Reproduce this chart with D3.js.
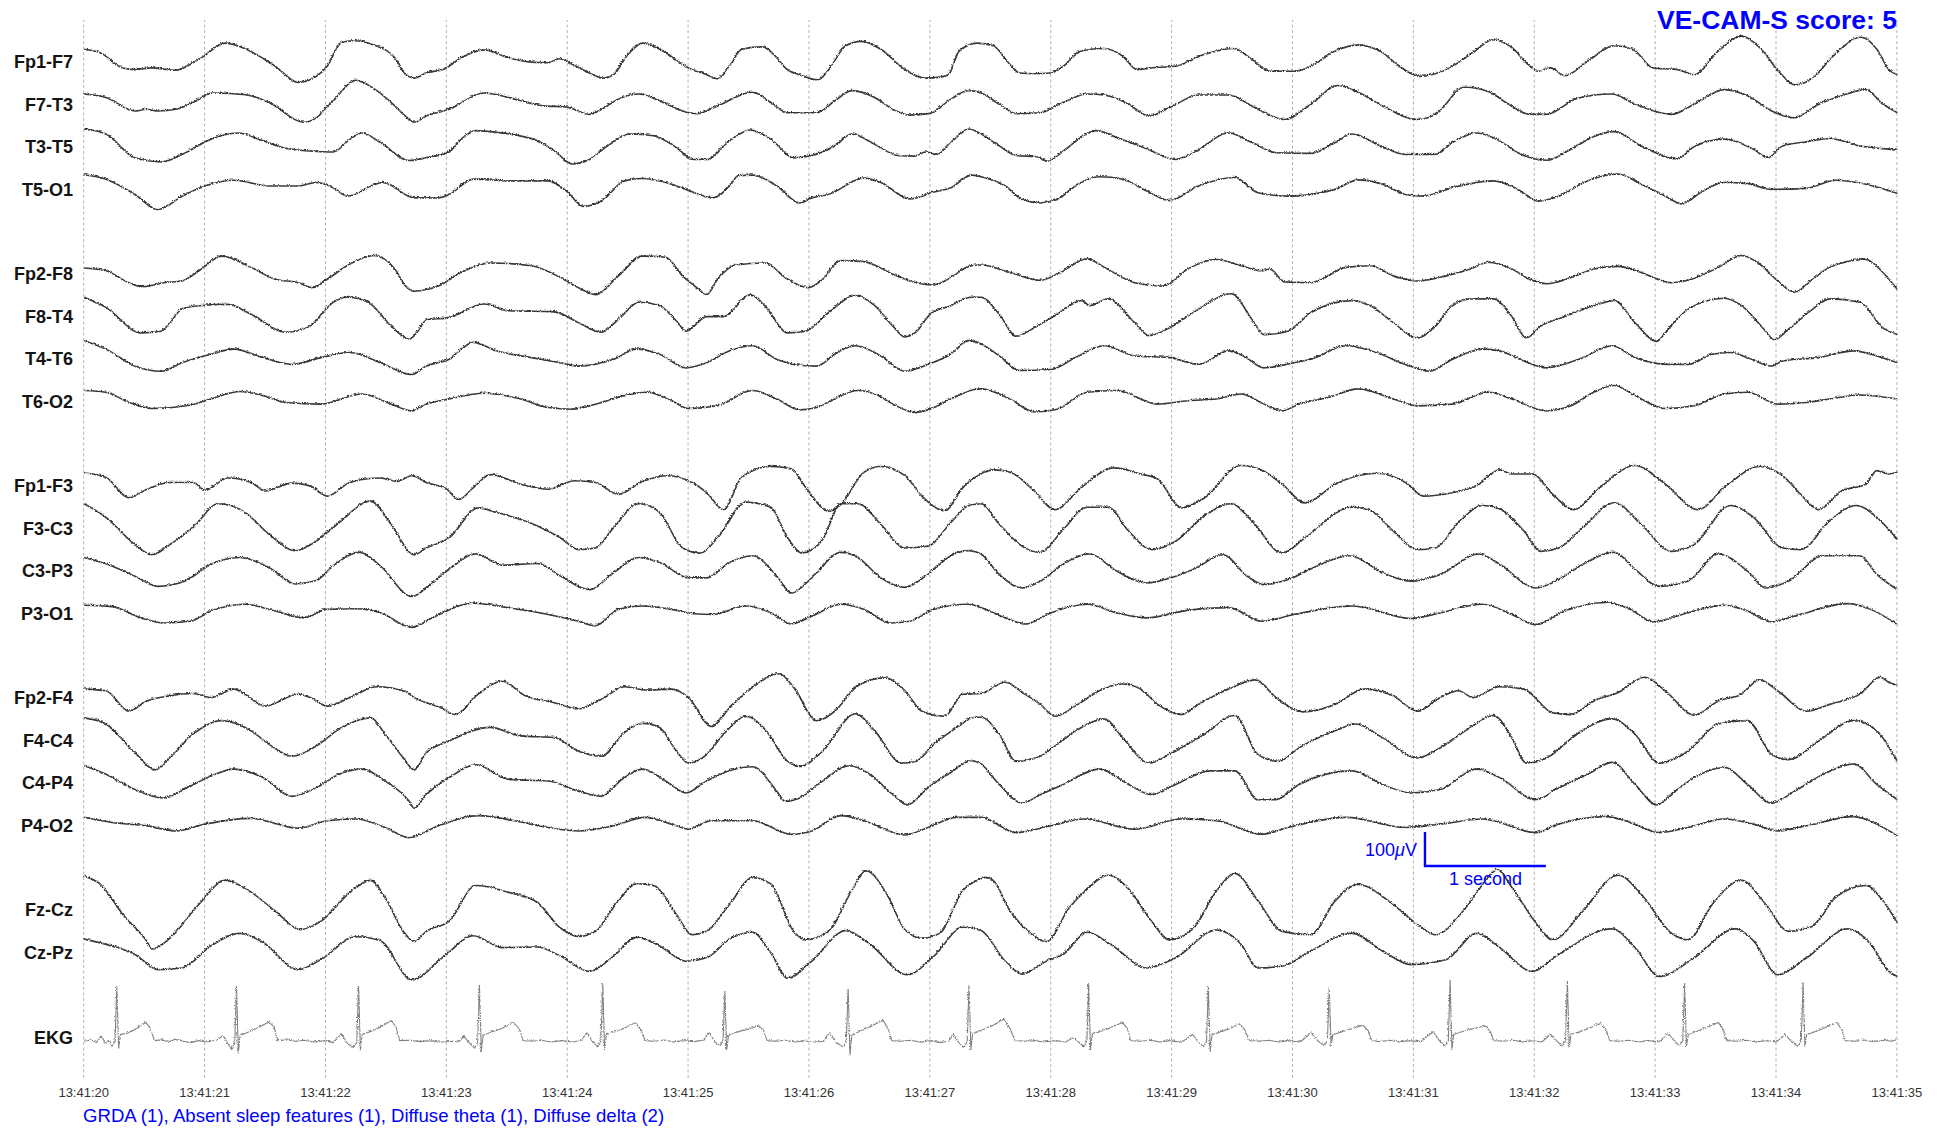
<!DOCTYPE html>
<html>
<head>
<meta charset="utf-8">
<script src="https://cdn.jsdelivr.net/npm/d3@7"></script>
<style>
  html, body { margin: 0; padding: 0; background: #fff; }
  svg { display: block; font-family: "Liberation Sans", Arial, Helvetica, sans-serif; }
</style>
</head>
<body>
<svg id="chart" width="1946" height="1132"></svg>
<script>
// ---- Montage: channel names and their row slots (gaps separate chains) ----
const channelNames = ["Fp1-F7","F7-T3","T3-T5","T5-O1",
                      "Fp2-F8","F8-T4","T4-T6","T6-O2",
                      "Fp1-F3","F3-C3","C3-P3","P3-O1",
                      "Fp2-F4","F4-C4","C4-P4","P4-O2",
                      "Fz-Cz","Cz-Pz","EKG"];
const channelSlots = [0,1,2,3, 5,6,7,8, 10,11,12,13, 15,16,17,18, 20,21, 23];

// time axis labels, one per second
const tickLabels = ["13:41:20","13:41:21","13:41:22","13:41:23","13:41:24","13:41:25",
                    "13:41:26","13:41:27","13:41:28","13:41:29","13:41:30","13:41:31",
                    "13:41:32","13:41:33","13:41:34","13:41:35"];

const titleText = "VE-CAM-S score: 5";
const findingsText = "GRDA (1), Absent sleep features (1), Diffuse theta (1), Diffuse delta (2)";

// ---- Traces: [seconds from 13:41:20, amplitude in µV (positive up)] ----
const fp1F7 = [[0,37],[0.13,27],[0.32,-18],[0.42,-23],[0.56,-18],[0.76,-25],[0.90,-3],[0.97,12],[1.17,55],[1.34,37],[1.58,-13],[1.77,-61],[1.92,-43],[2.01,-13],[2.13,57],[2.23,62],[2.40,49],[2.57,12],[2.66,-38],[2.73,-48],[2.83,-33],[2.98,-21],[3.12,12],[3.31,35],[3.51,12],[3.70,-1],[3.84,-3],[3.93,9],[4.04,-8],[4.18,-33],[4.30,-48],[4.38,-38],[4.50,22],[4.62,55],[4.76,37],[5.00,-18],[5.15,-38],[5.24,-50],[5.34,-13],[5.44,37],[5.61,44],[5.73,12],[5.80,-18],[5.92,-38],[6.07,-53],[6.16,-23],[6.30,47],[6.43,60],[6.59,37],[6.79,-23],[6.96,-48],[7.08,-45],[7.15,-38],[7.24,32],[7.39,55],[7.52,47],[7.66,-8],[7.74,-33],[7.86,-35],[8.00,-33],[8.10,-13],[8.25,32],[8.44,39],[8.59,17],[8.71,-23],[8.83,-18],[9.03,-13],[9.27,22],[9.51,39],[9.66,7],[9.81,-28],[10.01,-28],[10.15,-13],[10.35,32],[10.54,49],[10.74,27],[10.88,-13],[11.05,-43],[11.27,-23],[11.47,22],[11.66,65],[11.81,42],[11.96,-13],[12.03,-28],[12.13,-18],[12.25,-41],[12.44,2],[12.66,47],[12.81,37],[12.98,-18],[13.18,-23],[13.32,-38],[13.52,32],[13.71,75],[13.86,42],[14.03,-33],[14.15,-68],[14.30,-48],[14.47,17],[14.70,72],[14.83,37],[14.93,-23],[15.00,-38]];
const f7T3 = [[0,30],[0.18,20],[0.42,-20],[0.52,-15],[0.61,-20],[0.76,-15],[0.90,5],[1.07,33],[1.34,28],[1.53,5],[1.82,-53],[1.92,-40],[2.06,10],[2.25,70],[2.40,45],[2.57,-5],[2.69,-45],[2.73,-53],[2.83,-35],[3.02,-15],[3.31,33],[3.51,20],[3.80,-5],[3.99,-8],[4.18,-30],[4.28,-15],[4.42,15],[4.59,30],[4.76,10],[4.95,-20],[5.07,-28],[5.24,-5],[5.53,35],[5.68,5],[5.82,-25],[6.06,-25],[6.21,10],[6.35,40],[6.54,20],[6.69,-15],[6.83,-32],[7.00,-27],[7.17,15],[7.32,40],[7.42,33],[7.57,0],[7.71,-28],[7.91,-25],[8.10,5],[8.30,30],[8.44,27],[8.64,0],[8.81,-35],[8.98,-10],[9.22,27],[9.47,27],[9.66,-5],[9.93,-45],[10.15,0],[10.37,55],[10.54,35],[10.74,-5],[11.03,-45],[11.18,-30],[11.42,50],[11.62,37],[11.76,5],[11.96,-30],[12.10,-30],[12.35,17],[12.64,30],[12.83,0],[13.13,-30],[13.32,0],[13.57,43],[13.76,25],[13.96,-20],[14.15,-40],[14.35,0],[14.54,25],[14.74,43],[14.88,0],[15.00,-25]];
const t3T5 = [[0,52],[0.18,37],[0.42,-33],[0.64,-45],[0.81,-23],[1.05,22],[1.27,40],[1.48,17],[1.67,-5],[1.87,-13],[2.06,-16],[2.20,22],[2.30,40],[2.45,12],[2.69,-41],[2.83,-33],[3.02,-16],[3.12,22],[3.24,47],[3.41,42],[3.75,17],[3.89,-13],[4.04,-51],[4.18,-38],[4.33,2],[4.52,37],[4.71,32],[4.90,-3],[5.04,-38],[5.15,-38],[5.34,17],[5.51,49],[5.68,22],[5.87,-33],[6.02,-26],[6.21,2],[6.35,37],[6.54,7],[6.73,-26],[6.87,-28],[6.96,-16],[7.05,-23],[7.20,22],[7.32,52],[7.42,37],[7.57,2],[7.71,-26],[7.88,-30],[7.97,-43],[8.10,-13],[8.27,32],[8.37,47],[8.54,27],[8.79,-6],[9.03,-38],[9.18,-18],[9.47,40],[9.66,12],[9.86,-18],[10.15,-20],[10.35,12],[10.49,37],[10.74,-1],[10.93,-23],[11.18,-23],[11.32,12],[11.52,40],[11.71,17],[11.86,-18],[12.10,-40],[12.30,-8],[12.49,30],[12.66,44],[12.88,2],[13.18,-36],[13.32,0],[13.57,22],[13.81,-8],[13.93,-33],[14.05,2],[14.25,14],[14.44,24],[14.69,2],[14.88,-6],[15.00,-10]];
const t5O1 = [[0,42],[0.18,29],[0.42,-16],[0.61,-61],[0.81,-21],[1.00,9],[1.24,26],[1.53,9],[1.77,9],[1.92,19],[2.06,4],[2.18,-21],[2.47,19],[2.73,-26],[2.93,-26],[3.02,-16],[3.22,29],[3.51,24],[3.84,24],[3.99,-6],[4.13,-51],[4.28,-36],[4.47,24],[4.62,31],[4.86,14],[5.05,-11],[5.20,-26],[5.34,9],[5.41,39],[5.53,41],[5.73,9],[5.92,-41],[6.02,-26],[6.16,-16],[6.45,32],[6.59,19],[6.83,-29],[7.03,-9],[7.17,4],[7.34,41],[7.42,36],[7.62,9],[7.76,-31],[7.91,-41],[8.05,-31],[8.20,9],[8.40,36],[8.59,29],[8.79,-6],[8.98,-34],[9.22,9],[9.52,34],[9.71,-11],[9.96,-21],[10.35,-1],[10.54,27],[10.74,14],[10.93,-16],[11.08,-21],[11.32,4],[11.66,24],[11.86,-1],[12.03,-36],[12.20,-21],[12.44,24],[12.69,44],[12.88,14],[13.08,-21],[13.22,-44],[13.37,-11],[13.57,19],[13.76,16],[13.96,-1],[14.25,2],[14.49,26],[14.74,14],[15.00,-13]];
const fp2F8 = [[0,17],[0.18,9],[0.37,-26],[0.49,-38],[0.66,-26],[0.81,-21],[0.95,9],[1.14,52],[1.38,19],[1.58,-16],[1.77,-26],[1.89,-41],[2.01,-16],[2.20,29],[2.40,54],[2.57,14],[2.66,-36],[2.73,-51],[2.93,-36],[3.12,4],[3.36,32],[3.70,24],[3.94,-11],[4.09,-41],[4.23,-61],[4.42,-6],[4.62,52],[4.81,49],[4.95,-6],[5.07,-41],[5.15,-61],[5.24,-16],[5.39,26],[5.63,32],[5.82,-16],[5.99,-41],[6.11,-16],[6.26,39],[6.45,36],[6.69,-1],[6.88,-26],[7.03,-33],[7.17,-11],[7.32,22],[7.42,26],[7.66,4],[7.91,-19],[8.05,-1],[8.30,44],[8.44,19],[8.69,-26],[8.93,-36],[9.13,14],[9.37,42],[9.57,24],[9.74,9],[9.81,14],[9.93,-24],[10.15,-26],[10.44,19],[10.64,24],[10.83,-6],[11.03,-21],[11.27,-6],[11.47,14],[11.62,34],[11.81,14],[11.96,-16],[12.10,-29],[12.30,-11],[12.49,14],[12.69,22],[12.88,4],[13.13,-26],[13.27,-19],[13.52,19],[13.71,54],[13.86,29],[14.01,-21],[14.15,-54],[14.30,-16],[14.44,19],[14.74,42],[14.88,4],[15.00,-46]];
const f8T4 = [[0,56],[0.18,26],[0.47,-49],[0.64,-44],[0.81,21],[0.95,31],[1.19,35],[1.38,6],[1.67,-47],[1.87,-29],[2.06,41],[2.18,56],[2.35,41],[2.54,-29],[2.69,-67],[2.76,-44],[2.83,-11],[3.02,-4],[3.31,36],[3.51,16],[3.89,13],[4.09,-19],[4.28,-47],[4.42,-9],[4.59,41],[4.76,31],[4.90,-14],[4.98,-44],[5.15,-1],[5.29,-1],[5.51,63],[5.63,31],[5.82,-49],[5.97,-44],[6.16,11],[6.38,61],[6.54,31],[6.69,-29],[6.79,-61],[6.88,-47],[7.00,6],[7.17,31],[7.34,56],[7.42,56],[7.57,6],[7.71,-59],[7.86,-34],[8.05,6],[8.25,46],[8.32,31],[8.47,51],[8.69,-19],[8.81,-57],[8.98,-34],[9.22,21],[9.49,66],[9.66,-9],[9.76,-54],[9.96,-44],[10.15,11],[10.49,46],[10.64,31],[10.83,-19],[11.03,-64],[11.18,-29],[11.32,31],[11.47,51],[11.66,51],[11.81,-1],[11.93,-64],[12.05,-29],[12.25,-1],[12.49,31],[12.66,46],[12.83,-19],[13.01,-74],[13.08,-49],[13.27,21],[13.57,53],[13.71,31],[13.91,-44],[13.98,-69],[14.10,-39],[14.30,21],[14.44,51],[14.69,41],[14.88,-34],[15.00,-54]];
const t4T6 = [[0,53],[0.18,28],[0.42,-22],[0.64,-37],[0.81,-12],[1.05,13],[1.24,28],[1.48,3],[1.72,-17],[1.96,3],[2.20,18],[2.45,-12],[2.71,-47],[2.83,-22],[3.02,-2],[3.22,48],[3.41,23],[3.70,3],[3.94,-12],[4.09,-22],[4.38,-2],[4.57,28],[4.76,13],[4.98,-27],[5.15,-12],[5.34,23],[5.53,38],[5.73,-2],[5.87,-17],[6.06,-22],[6.21,13],[6.38,38],[6.59,8],[6.79,-37],[6.98,-17],[7.17,13],[7.32,53],[7.42,43],[7.57,8],[7.74,-35],[8.00,-32],[8.20,3],[8.44,38],[8.69,8],[8.98,3],[9.22,-17],[9.47,23],[9.59,8],[9.76,-27],[10.01,-12],[10.15,-2],[10.44,38],[10.69,18],[10.93,-17],[11.13,-37],[11.32,-2],[11.57,28],[11.71,23],[11.91,-7],[12.10,-27],[12.40,3],[12.64,38],[12.83,3],[13.13,-17],[13.27,-17],[13.47,13],[13.62,18],[13.76,3],[13.96,-22],[14.05,-7],[14.35,3],[14.64,23],[14.83,8],[15.00,-12]];
const t6O2 = [[0,31],[0.18,26],[0.37,-4],[0.56,-22],[0.85,-14],[1.05,6],[1.29,28],[1.48,16],[1.67,-4],[1.96,-9],[2.30,21],[2.54,-9],[2.71,-29],[2.83,-9],[3.02,6],[3.31,23],[3.61,6],[3.84,-19],[4.04,-24],[4.28,-4],[4.47,16],[4.66,26],[4.86,1],[5.00,-22],[5.24,-14],[5.53,31],[5.73,6],[5.92,-26],[6.06,-19],[6.21,6],[6.40,31],[6.57,16],[6.69,-9],[6.88,-34],[7.03,-19],[7.17,6],[7.37,34],[7.42,36],[7.66,6],[7.86,-32],[8.05,-24],[8.30,26],[8.54,31],[8.88,-9],[9.13,1],[9.37,6],[9.57,21],[9.76,-9],[9.91,-29],[10.05,-9],[10.30,11],[10.54,36],[10.83,6],[11.03,-14],[11.32,-9],[11.62,26],[11.81,6],[12.10,-29],[12.30,-14],[12.49,26],[12.66,46],[12.83,16],[13.08,-22],[13.32,-14],[13.57,21],[13.76,26],[14.01,-9],[14.25,-4],[14.44,6],[14.69,18],[15.00,6]];
const fp1F3 = [[0,38],[0.18,25],[0.37,-35],[0.52,-10],[0.71,10],[0.90,10],[1.00,-13],[1.19,23],[1.38,10],[1.50,-15],[1.72,8],[1.87,0],[2.01,-30],[2.20,10],[2.45,23],[2.59,13],[2.71,30],[2.83,10],[3.00,-10],[3.10,-40],[3.22,-5],[3.36,33],[3.61,5],[3.84,-10],[4.06,15],[4.23,10],[4.42,-25],[4.62,13],[4.83,30],[5.00,15],[5.15,-20],[5.29,-70],[5.44,25],[5.68,57],[5.85,50],[5.97,-5],[6.16,-75],[6.26,-55],[6.45,40],[6.59,57],[6.79,30],[6.93,-30],[7.12,-73],[7.27,-5],[7.42,35],[7.52,47],[7.66,40],[7.86,-15],[8.03,-70],[8.25,-5],[8.52,53],[8.74,35],[8.88,20],[9.08,-65],[9.27,-35],[9.57,60],[9.76,43],[9.91,5],[10.10,-50],[10.35,5],[10.69,37],[10.93,10],[11.08,-30],[11.32,-20],[11.52,0],[11.71,47],[11.81,35],[11.98,35],[12.15,-25],[12.32,-70],[12.54,-5],[12.83,60],[13.08,5],[13.35,-70],[13.57,-5],[13.86,57],[14.05,30],[14.20,-25],[14.35,-70],[14.54,-15],[14.74,5],[14.83,45],[14.93,35],[15.00,40]];
const f3C3 = [[0,72],[0.18,32],[0.42,-48],[0.56,-78],[0.71,-48],[0.90,2],[1.11,72],[1.33,47],[1.53,-18],[1.75,-66],[1.92,-38],[2.11,17],[2.37,80],[2.54,12],[2.73,-78],[2.83,-58],[3.02,-28],[3.26,60],[3.41,47],[3.75,7],[3.94,-28],[4.09,-63],[4.23,-58],[4.38,2],[4.59,72],[4.76,47],[4.95,-58],[5.10,-73],[5.24,-28],[5.48,77],[5.68,62],[5.82,-28],[5.94,-73],[6.11,-33],[6.26,72],[6.40,72],[6.59,12],[6.79,-58],[6.98,-53],[7.17,17],[7.32,67],[7.42,72],[7.57,12],[7.76,-53],[7.91,-71],[8.10,-3],[8.30,62],[8.47,62],[8.64,-8],[8.83,-63],[9.03,-38],[9.27,37],[9.49,72],[9.66,22],[9.91,-73],[10.10,-28],[10.49,62],[10.64,52],[10.83,-8],[11.03,-63],[11.18,-58],[11.37,17],[11.57,67],[11.71,57],[11.91,-8],[12.05,-68],[12.20,-58],[12.40,2],[12.66,75],[12.88,12],[13.13,-68],[13.32,-48],[13.62,67],[13.81,32],[14.05,-58],[14.20,-63],[14.44,22],[14.66,67],[14.83,32],[15.00,-33]];
const c3P3 = [[0,39],[0.23,14],[0.42,-16],[0.61,-46],[0.83,-31],[1.05,19],[1.29,39],[1.53,9],[1.75,-39],[1.92,-29],[2.06,14],[2.28,54],[2.45,14],[2.71,-76],[2.83,-51],[3.02,4],[3.24,49],[3.46,16],[3.75,21],[3.94,-16],[4.18,-56],[4.38,-6],[4.59,39],[4.76,24],[5.00,-21],[5.15,-21],[5.34,24],[5.53,44],[5.73,-16],[5.85,-66],[6.02,-21],[6.26,54],[6.40,39],[6.59,-21],[6.79,-49],[6.98,-11],[7.17,44],[7.32,59],[7.42,49],[7.57,-11],[7.76,-51],[7.91,-31],[8.10,19],[8.32,49],[8.54,-1],[8.79,-36],[9.03,-16],[9.18,4],[9.42,47],[9.62,-16],[9.76,-41],[9.96,-26],[10.20,14],[10.47,44],[10.74,-6],[10.98,-31],[11.22,-11],[11.54,49],[11.71,19],[12.01,-51],[12.20,-26],[12.40,19],[12.66,54],[12.83,4],[13.03,-46],[13.27,-31],[13.52,49],[13.76,-1],[13.91,-51],[14.10,-31],[14.39,44],[14.69,44],[14.83,-11],[15.00,-56]];
const p3O1 = [[0,23],[0.23,19],[0.47,-14],[0.66,-29],[0.88,-24],[1.05,6],[1.33,26],[1.58,6],[1.82,-14],[2.01,11],[2.25,13],[2.45,1],[2.71,-42],[2.88,-14],[3.22,29],[3.51,16],[3.84,-4],[4.09,-24],[4.23,-37],[4.42,11],[4.62,21],[4.86,11],[5.05,-2],[5.20,-4],[5.48,21],[5.68,1],[5.85,-32],[6.02,-9],[6.26,26],[6.45,11],[6.67,-29],[6.83,-24],[7.03,11],[7.32,26],[7.42,16],[7.62,-14],[7.79,-32],[8.00,1],[8.30,26],[8.54,1],[8.79,-14],[9.13,8],[9.47,16],[9.74,-24],[10.01,-4],[10.49,21],[10.98,-16],[11.22,1],[11.57,26],[11.81,-4],[12.01,-34],[12.25,6],[12.59,31],[12.79,11],[12.98,-26],[13.27,1],[13.57,23],[13.76,6],[13.96,-26],[14.15,-9],[14.59,28],[14.78,11],[15.00,-34]];
const fp2F4 = [[0,26],[0.18,21],[0.37,-39],[0.52,-9],[0.71,6],[0.90,13],[1.05,1],[1.24,26],[1.50,-24],[1.77,11],[1.87,1],[2.01,-24],[2.20,1],[2.42,33],[2.64,21],[2.73,1],[2.95,-29],[3.07,-49],[3.26,11],[3.46,49],[3.65,6],[3.89,-14],[4.09,-32],[4.28,-4],[4.47,33],[4.66,23],[4.86,26],[5.00,1],[5.19,-84],[5.34,-29],[5.53,31],[5.75,71],[5.87,31],[6.06,-67],[6.21,-39],[6.40,36],[6.62,59],[6.79,21],[6.93,-39],[7.12,-54],[7.27,11],[7.42,13],[7.62,46],[7.76,16],[7.91,-19],[8.03,-54],[8.22,-19],[8.40,21],[8.59,41],[8.74,26],[8.88,-19],[9.08,-49],[9.22,-19],[9.47,26],[9.69,53],[9.86,1],[10.08,-41],[10.35,-19],[10.59,26],[10.83,6],[11.03,-39],[11.22,1],[11.37,21],[11.49,1],[11.71,33],[11.91,26],[12.15,-44],[12.30,-49],[12.49,-9],[12.69,16],[12.91,61],[13.08,21],[13.32,-51],[13.52,-9],[13.71,11],[13.86,53],[14.01,21],[14.25,-39],[14.44,-19],[14.69,11],[14.86,61],[14.93,46],[15.00,36]];
const f4C4 = [[0,66],[0.18,48],[0.42,-37],[0.59,-87],[0.71,-52],[0.90,18],[1.14,58],[1.38,28],[1.53,-12],[1.72,-47],[1.92,-17],[2.11,33],[2.37,66],[2.49,18],[2.64,-52],[2.73,-87],[2.83,-37],[3.02,-2],[3.36,38],[3.61,13],[3.89,8],[4.09,-32],[4.28,-47],[4.47,23],[4.62,50],[4.76,38],[4.90,-32],[5.00,-67],[5.15,-42],[5.29,18],[5.48,70],[5.63,33],[5.82,-62],[5.92,-77],[6.11,-32],[6.38,78],[6.54,28],[6.76,-67],[6.88,-62],[7.03,-12],[7.22,38],[7.37,68],[7.42,68],[7.57,18],[7.71,-62],[7.91,-47],[8.05,-12],[8.25,38],[8.44,63],[8.59,8],[8.81,-67],[9.00,-37],[9.27,18],[9.52,73],[9.71,-42],[9.88,-62],[10.05,-22],[10.35,28],[10.52,48],[10.74,8],[11.03,-52],[11.22,-22],[11.47,38],[11.66,73],[11.81,8],[11.93,-67],[12.10,-52],[12.35,18],[12.64,63],[12.83,18],[13.03,-67],[13.27,-32],[13.52,48],[13.76,58],[13.96,-42],[14.10,-57],[14.35,-2],[14.64,58],[14.83,28],[15.00,-62]];
const c4P4 = [[0,50],[0.18,25],[0.42,-20],[0.66,-45],[0.85,-15],[1.05,20],[1.24,40],[1.48,15],[1.72,-40],[1.92,-15],[2.11,25],[2.30,40],[2.49,5],[2.69,-55],[2.73,-75],[2.83,-35],[3.02,15],[3.24,53],[3.51,10],[3.84,5],[4.09,-25],[4.28,-40],[4.45,10],[4.62,40],[4.81,5],[4.98,-30],[5.15,5],[5.34,35],[5.53,47],[5.73,-25],[5.80,-55],[5.92,-45],[6.11,5],[6.33,50],[6.50,25],[6.69,-35],[6.81,-65],[6.98,-15],[7.17,30],[7.34,65],[7.42,55],[7.57,-5],[7.76,-60],[7.91,-35],[8.10,-5],[8.40,40],[8.64,-5],[8.83,-35],[9.03,-5],[9.32,35],[9.52,35],[9.71,-50],[9.86,-50],[10.05,-5],[10.49,35],[10.74,-5],[10.98,-30],[11.22,-20],[11.52,40],[11.71,15],[12.01,-50],[12.20,-15],[12.44,25],[12.64,60],[12.83,-5],[13.01,-65],[13.18,-20],[13.32,15],[13.57,45],[13.76,-5],[13.96,-60],[14.15,-25],[14.39,25],[14.64,55],[14.83,-5],[15.00,-50]];
const p4O2 = [[0,23],[0.23,8],[0.52,-2],[0.76,-17],[1.00,3],[1.38,20],[1.77,-9],[2.01,13],[2.25,18],[2.49,-7],[2.69,-37],[2.93,-2],[3.26,28],[3.56,13],[3.84,-7],[4.09,-17],[4.38,-2],[4.64,23],[4.90,-2],[5.00,-12],[5.19,13],[5.53,13],[5.85,-27],[6.02,-17],[6.26,28],[6.45,13],[6.79,-29],[6.98,-7],[7.22,23],[7.42,23],[7.71,-22],[8.00,-2],[8.27,18],[8.69,-12],[9.08,18],[9.37,13],[9.74,-27],[9.96,-7],[10.44,23],[10.93,-7],[11.22,3],[11.57,18],[12.01,-22],[12.20,3],[12.59,25],[12.79,8],[13.03,-22],[13.27,-7],[13.57,18],[13.81,3],[14.01,-17],[14.25,-2],[14.64,25],[14.83,3],[15.00,-32]];
const fzCz = [[0,99],[0.13,77],[0.32,-13],[0.52,-93],[0.56,-115],[0.71,-83],[0.95,17],[1.17,87],[1.34,62],[1.58,-3],[1.79,-58],[1.96,-33],[2.20,52],[2.37,87],[2.49,37],[2.64,-63],[2.73,-93],[2.83,-63],[3.02,-33],[3.24,72],[3.51,52],[3.75,22],[3.94,-53],[4.09,-78],[4.23,-63],[4.42,27],[4.57,77],[4.71,72],[4.90,-13],[5.03,-73],[5.15,-63],[5.34,17],[5.53,95],[5.68,77],[5.87,-63],[5.97,-88],[6.16,-63],[6.35,57],[6.47,115],[6.64,47],[6.79,-58],[6.93,-83],[7.08,-68],[7.27,57],[7.41,90],[7.46,96],[7.52,87],[7.66,-3],[7.81,-63],[7.96,-93],[8.15,7],[8.30,62],[8.47,102],[8.64,62],[8.83,-33],[8.98,-88],[9.18,-53],[9.37,57],[9.52,107],[9.71,27],[9.91,-63],[10.15,-73],[10.35,27],[10.54,75],[10.79,27],[11.03,-43],[11.18,-73],[11.42,2],[11.62,97],[11.69,119],[11.81,67],[12.01,-38],[12.15,-88],[12.40,-3],[12.69,102],[12.88,47],[13.13,-68],[13.27,-88],[13.47,17],[13.71,87],[13.91,17],[14.10,-63],[14.30,-48],[14.49,37],[14.74,72],[14.88,27],[15.00,-38]];
const czPz = [[0,39],[0.23,19],[0.42,-6],[0.61,-51],[0.81,-46],[1.05,19],[1.29,56],[1.48,29],[1.77,-51],[1.96,-21],[2.25,46],[2.45,34],[2.71,-81],[2.98,-11],[3.22,49],[3.46,14],[3.75,16],[3.94,-11],[4.18,-56],[4.38,-11],[4.57,44],[4.76,19],[4.98,-26],[5.15,-16],[5.34,39],[5.53,59],[5.68,-1],[5.82,-76],[6.02,-26],[6.30,64],[6.50,24],[6.81,-66],[7.03,-11],[7.27,74],[7.42,64],[7.62,-26],[7.76,-64],[7.96,-26],[8.10,-6],[8.30,59],[8.49,24],[8.79,-46],[9.03,-16],[9.37,66],[9.57,24],[9.71,-46],[9.91,-41],[10.15,4],[10.49,56],[10.74,4],[10.98,-36],[11.27,-21],[11.52,56],[11.71,14],[11.98,-56],[12.20,-6],[12.64,69],[12.83,14],[13.03,-71],[13.32,-16],[13.66,69],[13.81,34],[14.01,-66],[14.25,-16],[14.59,69],[14.78,24],[14.93,-56],[15.00,-71]];
const ekg = [[0,-12],[0.06,-8],[0.10,-16],[0.14,3],[0.18,-18],[0.21,-10],[0.23,-27],[0.255,-15],[0.27,148],[0.285,-32],[0.30,8],[0.36,12],[0.42,22],[0.51,43],[0.55,25],[0.58,-10],[0.65,-8],[0.70,-15],[0.75,-6],[0.82,-12],[0.88,-16],
  [0.95,-10],[1.02,-14],[1.10,-8],[1.15,5],[1.19,-20],[1.22,-37],[1.245,-20],[1.26,150],[1.275,-47],[1.29,5],[1.35,14],[1.42,25],[1.53,45],[1.57,30],[1.60,-10],[1.68,-8],[1.75,-12],[1.82,-9],[1.90,-14],[2.00,-10],
  [2.06,-16],[2.13,10],[2.18,-20],[2.23,-30],[2.255,-15],[2.27,150],[2.285,-37],[2.30,8],[2.36,15],[2.44,28],[2.54,48],[2.58,30],[2.61,-10],[2.70,-9],[2.78,-13],[2.86,-10],[2.95,-15],[3.05,-12],
  [3.10,-14],[3.14,3],[3.19,-18],[3.23,-32],[3.255,-18],[3.27,153],[3.285,-42],[3.30,5],[3.37,15],[3.45,25],[3.55,43],[3.60,25],[3.63,-10],[3.70,-12],[3.78,-9],[3.86,-14],[3.95,-10],[4.05,-14],
  [4.12,-8],[4.16,13],[4.21,-16],[4.25,-28],[4.275,-12],[4.29,158],[4.305,-37],[4.32,8],[4.38,14],[4.46,25],[4.56,43],[4.61,20],[4.64,-10],[4.72,-12],[4.80,-8],[4.88,-14],[4.96,-10],[5.05,-13],
  [5.13,-8],[5.17,13],[5.22,-15],[5.26,-25],[5.285,-10],[5.30,135],[5.315,-37],[5.33,5],[5.40,15],[5.48,22],[5.58,33],[5.62,20],[5.65,-10],[5.72,-12],[5.80,-9],[5.88,-14],[5.96,-11],[6.05,-14],
  [6.12,-12],[6.17,13],[6.22,-15],[6.28,-30],[6.305,-12],[6.32,141],[6.335,-52],[6.35,5],[6.42,18],[6.50,30],[6.61,50],[6.65,25],[6.68,-10],[6.76,-12],[6.84,-9],[6.92,-15],[7.00,-10],[7.08,-16],
  [7.15,-12],[7.19,8],[7.24,-18],[7.28,-30],[7.305,-12],[7.32,153],[7.335,-37],[7.35,10],[7.42,20],[7.52,35],[7.61,53],[7.66,25],[7.70,-10],[7.78,-12],[7.86,-10],[7.94,-14],[8.04,-10],[8.12,-14],
  [8.18,-2],[8.22,-12],[8.27,-28],[8.295,-12],[8.31,156],[8.325,-37],[8.34,8],[8.40,16],[8.48,26],[8.59,43],[8.63,25],[8.66,-10],[8.74,-12],[8.82,-9],[8.90,-14],[8.98,-10],[9.08,-15],
  [9.17,8],[9.22,-15],[9.26,-28],[9.285,-12],[9.30,146],[9.315,-42],[9.33,8],[9.40,15],[9.47,24],[9.56,38],[9.60,22],[9.64,-10],[9.72,-12],[9.80,-9],[9.88,-14],[9.96,-10],[10.06,-14],
  [10.15,13],[10.21,-12],[10.26,-25],[10.285,-10],[10.30,143],[10.315,-27],[10.33,8],[10.40,15],[10.48,24],[10.58,35],[10.62,20],[10.65,-10],[10.72,-13],[10.80,-9],[10.88,-14],[10.96,-10],[11.06,-13],
  [11.16,16],[11.21,-10],[11.26,-26],[11.285,-10],[11.30,165],[11.315,-37],[11.33,8],[11.40,16],[11.48,24],[11.59,33],[11.63,18],[11.66,-10],[11.74,-12],[11.82,-9],[11.90,-14],[11.98,-10],[12.06,-14],
  [12.13,8],[12.19,-14],[12.23,-27],[12.255,-10],[12.27,163],[12.285,-32],[12.30,8],[12.37,15],[12.45,26],[12.55,41],[12.59,22],[12.62,-10],[12.70,-12],[12.78,-9],[12.86,-14],[12.94,-10],[13.04,-14],
  [13.10,13],[13.16,-14],[13.20,-25],[13.225,-10],[13.24,156],[13.255,-27],[13.27,8],[13.34,16],[13.42,28],[13.52,43],[13.56,22],[13.59,-10],[13.67,-12],[13.75,-9],[13.83,-14],[13.91,-10],[14.00,-14],
  [14.07,8],[14.13,-15],[14.18,-28],[14.205,-10],[14.22,160],[14.235,-27],[14.25,8],[14.32,16],[14.40,28],[14.50,43],[14.54,22],[14.57,-10],[14.65,-12],[14.73,-8],[14.81,-14],[14.89,-9],[14.95,-12],[15.00,-7]];

const traces = [fp1F7, f7T3, t3T5, t5O1, fp2F8, f8T4, t4T6, t6O2,
                fp1F3, f3C3, c3P3, p3O1, fp2F4, f4C4, c4P4, p4O2, fzCz, czPz, ekg];

// calibration bar: starts at this time (s), spans 1 second and 100 µV
const calStart = 11.1, calSeconds = 1, calMicroV = 100;

// ---- Layout ----
const gridTop = 20, gridBottom = 1078;
const blue = "#0000ff";

const svg = d3.select("#chart");

// slight roughness on the pen strokes
const defs = svg.append("defs");
const rough = defs.append("filter")
  .attr("id", "pen")
  .attr("x", "-1%").attr("y", "-10%")
  .attr("width", "102%").attr("height", "120%");
rough.append("feTurbulence")
  .attr("type", "turbulence")
  .attr("baseFrequency", "0.45 0.6")
  .attr("numOctaves", 1)
  .attr("seed", 7)
  .attr("result", "tex");
rough.append("feDisplacementMap")
  .attr("in", "SourceGraphic")
  .attr("in2", "tex")
  .attr("scale", 2.2)
  .attr("xChannelSelector", "R")
  .attr("yChannelSelector", "G");

const x = d3.scaleLinear().domain([0, 15]).range([83.2, 1896.4]);
const slotY = d3.scaleLinear().domain([0, 23]).range([60.8, 1036.2]);
const amp = d3.scaleLinear().domain([0, 100]).range([0, -34]);   // 100 µV -> 34 px

// time grid + labels
const axis = d3.axisBottom(x)
  .tickValues(d3.range(tickLabels.length))
  .tickFormat(i => tickLabels[i])
  .tickSizeInner(-(gridBottom - gridTop))
  .tickSizeOuter(0)
  .tickPadding(10);

const gAxis = svg.append("g")
  .attr("transform", `translate(0,${gridBottom})`)
  .call(axis);
gAxis.select(".domain").remove();
gAxis.selectAll(".tick line")
  .attr("stroke", "#b4b4b4")
  .attr("stroke-width", 1)
  .attr("stroke-dasharray", "3,2.5");
gAxis.selectAll(".tick text")
  .attr("font-size", 13)
  .attr("fill", "#333")
  .attr("font-family", "'Liberation Sans', Arial, sans-serif");

// traces
const gTraces = svg.append("g").attr("filter", "url(#pen)");
traces.forEach((series, i) => {
  const base = slotY(channelSlots[i]);
  const isEkg = channelNames[i] === "EKG";
  const line = d3.line()
    .x(d => x(d[0]))
    .y(d => base + amp(d[1]))
    .curve(isEkg ? d3.curveLinear : d3.curveMonotoneX);
  gTraces.append("path")
    .datum(series)
    .attr("d", line)
    .attr("fill", "none")
    .attr("stroke", isEkg ? "#808080" : "#383838")
    .attr("stroke-width", isEkg ? 1.1 : 1.6)
    .attr("stroke-linejoin", "round");
});

// channel labels
svg.append("g").selectAll("text")
  .data(channelNames)
  .join("text")
  .attr("x", 73)
  .attr("y", (d, i) => slotY(channelSlots[i]) + 1.5)
  .attr("text-anchor", "end")
  .attr("dominant-baseline", "central")
  .attr("font-size", 18)
  .attr("font-weight", "bold")
  .attr("fill", "#141414")
  .text(d => d);

// title
svg.append("text")
  .attr("x", 1897)
  .attr("y", 29)
  .attr("text-anchor", "end")
  .attr("font-size", 26.5)
  .attr("font-weight", "bold")
  .attr("fill", blue)
  .text(titleText);

// findings line
svg.append("text")
  .attr("x", 83)
  .attr("y", 1122)
  .attr("font-size", 18.6)
  .attr("fill", blue)
  .text(findingsText);

// calibration bar
const calY = 866;
const gCal = svg.append("g");
gCal.append("path")
  .attr("d", `M${x(calStart)},${calY + amp(calMicroV)}V${calY}H${x(calStart + calSeconds)}`)
  .attr("fill", "none")
  .attr("stroke", blue)
  .attr("stroke-width", 2.4);
const volt = gCal.append("text")
  .attr("x", x(calStart) - 8)
  .attr("y", 856)
  .attr("text-anchor", "end")
  .attr("font-size", 18)
  .attr("fill", blue);
volt.append("tspan").text(calMicroV);
volt.append("tspan").attr("font-style", "italic").text("\u03bc");
volt.append("tspan").text("V");
gCal.append("text")
  .attr("x", x(calStart + calSeconds / 2))
  .attr("y", 885)
  .attr("text-anchor", "middle")
  .attr("font-size", 18)
  .attr("fill", blue)
  .text(calSeconds + " second");
</script>
</body>
</html>
